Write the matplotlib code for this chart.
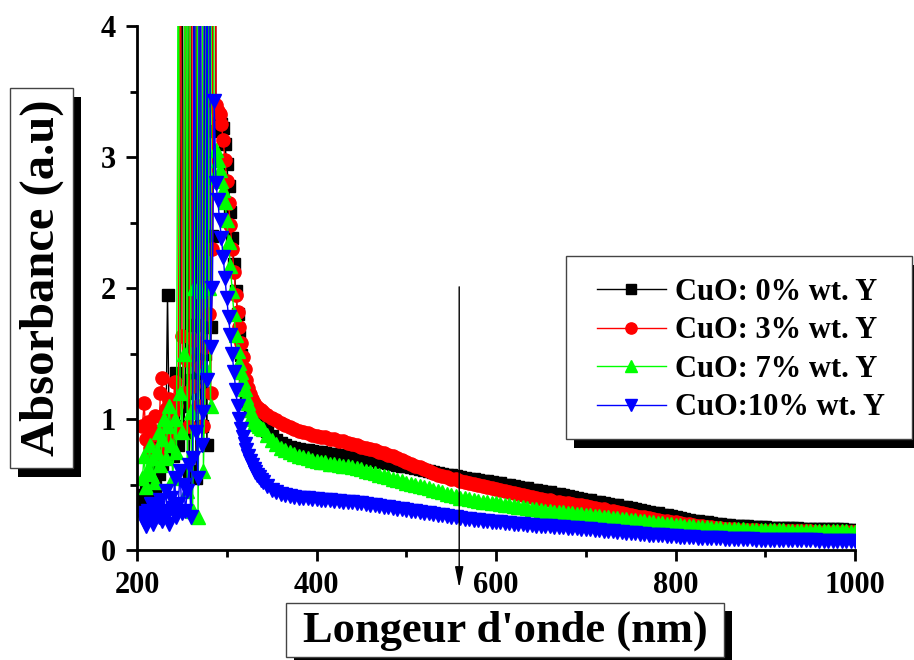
import numpy as np
import matplotlib
matplotlib.use("Agg")
import matplotlib.pyplot as plt
from matplotlib.patches import Rectangle
from matplotlib.lines import Line2D

plt.rcParams['font.family'] = ['Liberation Serif', 'DejaVu Serif']
plt.rcParams['font.weight'] = 'bold'

# wavelength grid (nm): noisy part, steep edge, smooth tail
wl_noise = np.arange(206, 289, 2)
wl_edge = np.arange(290, 341, 2)
wl_tail = np.arange(345, 1001, 5)
wavelength = np.concatenate([wl_noise, wl_edge, wl_tail])

labels = ['CuO: 0% wt. Y', 'CuO: 3% wt. Y', 'CuO: 7% wt. Y', 'CuO:10% wt. Y']
colors = ['#000000', '#ff0000', '#00ff00', '#0000ff']
markers = ['s', 'o', '^', 'v']
msizes = [8.5, 9.5, 10.5, 10.5]

# --- CuO 0 % ---
a0_noise = [0.42, 0.38, 0.45, 0.52, 0.40, 0.55, 0.62, 0.48, 0.70, 0.58,
            0.80, 0.66, 0.90, 0.75, 1.95, 0.85, 1.05, 0.72, 0.95, 1.35,
            0.80, 1.10, 6.0, 0.90, 1.20, 7.5, 0.60, 1.30, 8.0, 1.72,
            0.55, 9.0, 1.35, 0.95, 8.5, 1.50, 0.80, 9.5, 1.70, 2.40,
            9.0, 3.20]
a0_edge = [3.30, 3.28, 3.25, 3.22, 3.10, 2.95, 2.78, 2.58, 2.38, 2.18,
           1.98, 1.80, 1.63, 1.49, 1.37, 1.27, 1.19, 1.13, 1.09, 1.06,
           1.04, 1.02, 1.00, 0.99, 0.975, 0.96]
a0_tail = [0.91, 0.87, 0.84, 0.82, 0.805, 0.79, 0.78, 0.77, 0.765, 0.76,
           0.755, 0.75, 0.745, 0.74, 0.735, 0.73, 0.725, 0.72, 0.715, 0.71,
           0.705, 0.70, 0.695, 0.69, 0.685, 0.675, 0.67, 0.665, 0.66, 0.65,
           0.645, 0.64, 0.63, 0.625, 0.615, 0.61, 0.60, 0.595, 0.59, 0.58,
           0.575, 0.57, 0.565, 0.56, 0.55, 0.545, 0.54, 0.535, 0.53, 0.525,
           0.52, 0.515, 0.51, 0.50, 0.495, 0.49, 0.48, 0.475, 0.47, 0.46,
           0.455, 0.45, 0.445, 0.44, 0.43, 0.425, 0.42, 0.41, 0.405, 0.40,
           0.39, 0.385, 0.38, 0.37, 0.365, 0.36, 0.35, 0.345, 0.34, 0.33,
           0.325, 0.32, 0.31, 0.305, 0.30, 0.29, 0.285, 0.28, 0.27, 0.265,
           0.26, 0.25, 0.245, 0.24, 0.23, 0.225, 0.22, 0.215, 0.21, 0.205,
           0.20, 0.197, 0.193, 0.19, 0.187, 0.184, 0.182, 0.18, 0.178, 0.176,
           0.174, 0.172, 0.171, 0.17, 0.169, 0.168, 0.167, 0.166, 0.165, 0.164,
           0.163, 0.163, 0.162, 0.161, 0.16, 0.159, 0.158, 0.158, 0.157, 0.156,
           0.156, 0.155]

# --- CuO 3 % ---
a3_noise = [0.95, 1.12, 0.85, 0.98, 0.78, 0.92, 0.70, 1.02, 0.88, 0.75,
            1.20, 1.31, 0.95, 1.08, 0.82, 1.15, 0.90, 1.05, 1.28, 1.10,
            0.92, 5.5, 1.63, 1.20, 6.5, 1.45, 0.95, 8.0, 1.25, 1.60,
            7.0, 1.10, 1.40, 9.0, 0.95, 1.55, 8.5, 1.80, 1.20, 2.30,
            9.5, 3.40]
a3_edge = [3.35, 3.33, 3.25, 3.13, 2.98, 2.82, 2.65, 2.48, 2.30, 2.12,
           1.95, 1.82, 1.70, 1.58, 1.47, 1.38, 1.30, 1.24, 1.19, 1.15,
           1.12, 1.10, 1.09, 1.08, 1.07, 1.05]
a3_tail = [1.03, 1.01, 0.99, 0.97, 0.955, 0.94, 0.925, 0.91, 0.90, 0.89,
           0.88, 0.87, 0.865, 0.86, 0.85, 0.845, 0.835, 0.83, 0.82, 0.81,
           0.80, 0.79, 0.78, 0.77, 0.76, 0.75, 0.74, 0.725, 0.715, 0.70,
           0.69, 0.675, 0.66, 0.645, 0.63, 0.615, 0.60, 0.59, 0.575, 0.565,
           0.555, 0.545, 0.54, 0.53, 0.52, 0.51, 0.505, 0.495, 0.49, 0.48,
           0.475, 0.465, 0.46, 0.45, 0.445, 0.435, 0.43, 0.42, 0.415, 0.405,
           0.395, 0.39, 0.385, 0.38, 0.37, 0.365, 0.36, 0.355, 0.35, 0.345,
           0.34, 0.335, 0.33, 0.32, 0.315, 0.31, 0.30, 0.295, 0.29, 0.28,
           0.275, 0.27, 0.26, 0.255, 0.25, 0.245, 0.235, 0.23, 0.225, 0.22,
           0.215, 0.21, 0.205, 0.20, 0.195, 0.19, 0.186, 0.182, 0.178, 0.174,
           0.17, 0.166, 0.163, 0.16, 0.157, 0.155, 0.153, 0.151, 0.15, 0.149,
           0.148, 0.147, 0.146, 0.145, 0.145, 0.144, 0.144, 0.143, 0.143, 0.142,
           0.142, 0.142, 0.141, 0.141, 0.141, 0.14, 0.14, 0.14, 0.14, 0.14,
           0.14, 0.14]

# --- CuO 7 % ---
a7_noise = [0.55, 0.72, 0.48, 0.62, 0.80, 0.58, 0.70, 0.52, 0.75, 0.90,
            0.65, 0.85, 1.00, 0.70, 0.95, 1.10, 0.80, 0.55, 1.00, 0.75,
            5.0, 1.20, 0.90, 1.50, 7.0, 0.45, 8.0, 1.05, 0.30, 2.00,
            9.0, 0.25, 1.98, 8.5, 0.60, 1.40, 9.0, 2.00, 1.10, 9.5,
            2.85, 3.05]
a7_edge = [2.98, 2.90, 2.82, 2.75, 2.66, 2.52, 2.35, 2.17, 1.98, 1.80,
           1.64, 1.52, 1.43, 1.36, 1.29, 1.23, 1.17, 1.12, 1.07, 1.03,
           1.00, 0.98, 0.96, 0.945, 0.93, 0.92]
a7_tail = [0.88, 0.84, 0.81, 0.78, 0.76, 0.745, 0.73, 0.72, 0.71, 0.70,
           0.69, 0.68, 0.675, 0.67, 0.66, 0.655, 0.65, 0.645, 0.64, 0.635,
           0.625, 0.615, 0.605, 0.595, 0.585, 0.575, 0.565, 0.555, 0.545, 0.535,
           0.525, 0.515, 0.505, 0.495, 0.49, 0.48, 0.47, 0.46, 0.45, 0.44,
           0.43, 0.42, 0.41, 0.40, 0.395, 0.39, 0.38, 0.375, 0.37, 0.365,
           0.36, 0.355, 0.35, 0.345, 0.34, 0.335, 0.33, 0.325, 0.32, 0.315,
           0.31, 0.305, 0.30, 0.297, 0.293, 0.29, 0.287, 0.283, 0.28, 0.277,
           0.273, 0.27, 0.266, 0.262, 0.258, 0.254, 0.25, 0.246, 0.242, 0.238,
           0.235, 0.231, 0.227, 0.223, 0.219, 0.215, 0.211, 0.207, 0.203, 0.199,
           0.196, 0.193, 0.19, 0.187, 0.184, 0.181, 0.178, 0.175, 0.172, 0.17,
           0.168, 0.165, 0.163, 0.161, 0.159, 0.158, 0.157, 0.156, 0.155, 0.154,
           0.153, 0.152, 0.151, 0.15, 0.15, 0.149, 0.148, 0.148, 0.147, 0.147,
           0.146, 0.146, 0.145, 0.145, 0.144, 0.144, 0.143, 0.143, 0.142, 0.142,
           0.141, 0.14]

# --- CuO 10 % ---
a10_noise = [0.28, 0.22, 0.18, 0.30, 0.24, 0.35, 0.20, 0.28, 0.32, 0.25,
             0.38, 0.22, 0.30, 0.45, 0.28, 0.20, 0.40, 0.32, 0.55, 0.25,
             0.35, 0.60, 0.28, 0.50, 0.30, 0.45, 0.65, 0.25, 0.70, 5.0,
             0.90, 0.55, 7.0, 0.80, 1.05, 8.0, 1.30, 9.0, 1.55, 2.00,
             3.43, 2.80]
a10_edge = [2.67, 2.52, 2.38, 2.24, 2.08, 1.92, 1.78, 1.64, 1.50, 1.36,
            1.22, 1.10, 1.00, 0.92, 0.86, 0.81, 0.76, 0.72, 0.68, 0.65,
            0.62, 0.595, 0.575, 0.555, 0.535, 0.52]
a10_tail = [0.485, 0.46, 0.44, 0.43, 0.42, 0.412, 0.405, 0.40, 0.397, 0.394,
            0.391, 0.388, 0.385, 0.382, 0.379, 0.376, 0.373, 0.37, 0.367, 0.364,
            0.36, 0.355, 0.35, 0.345, 0.34, 0.335, 0.33, 0.325, 0.32, 0.315,
            0.31, 0.305, 0.30, 0.295, 0.29, 0.285, 0.28, 0.275, 0.27, 0.265,
            0.26, 0.255, 0.25, 0.245, 0.24, 0.236, 0.232, 0.228, 0.224, 0.22,
            0.217, 0.214, 0.211, 0.208, 0.205, 0.202, 0.199, 0.196, 0.193, 0.19,
            0.187, 0.185, 0.182, 0.18, 0.177, 0.175, 0.172, 0.17, 0.167, 0.165,
            0.162, 0.16, 0.157, 0.154, 0.151, 0.148, 0.145, 0.142, 0.139, 0.136,
            0.133, 0.13, 0.127, 0.124, 0.121, 0.118, 0.115, 0.113, 0.111, 0.109,
            0.107, 0.105, 0.103, 0.101, 0.099, 0.097, 0.095, 0.093, 0.092, 0.091,
            0.09, 0.088, 0.087, 0.086, 0.085, 0.084, 0.083, 0.082, 0.081, 0.08,
            0.079, 0.078, 0.078, 0.077, 0.077, 0.076, 0.076, 0.075, 0.075, 0.074,
            0.074, 0.073, 0.073, 0.072, 0.072, 0.072, 0.071, 0.071, 0.071, 0.07,
            0.07, 0.07]

series = [a0_noise + a0_edge + a0_tail,
          a3_noise + a3_edge + a3_tail,
          a7_noise + a7_edge + a7_tail,
          a10_noise + a10_edge + a10_tail]

W, H = 914, 660
fig = plt.figure(figsize=(W / 100, H / 100), dpi=100)
ax = fig.add_axes([137 / W, 1 - 550 / H, 718 / W, 524 / H])

for vals, c, m, ms, lab in zip(series, colors, markers, msizes, labels):
    ax.plot(wavelength, vals, color=c, lw=1, marker=m, ms=ms, mec=c, mfc=c, label=lab)

ax.set_xlim(200, 1000)
ax.set_ylim(0, 4)
ax.set_xticks([200, 400, 600, 800, 1000])
ax.set_xticks([300, 500, 700, 900], minor=True)
ax.set_yticks([0, 1, 2, 3, 4])
ax.set_yticks([0.5, 1.5, 2.5, 3.5], minor=True)
for s in ['top', 'right']:
    ax.spines[s].set_visible(False)
for s in ['left', 'bottom']:
    ax.spines[s].set_linewidth(2)
ax.tick_params(which='major', direction='out', length=8, width=2, labelsize=22, pad=7)
ax.tick_params(which='minor', direction='out', length=5, width=2)

# arrow marking a wavelength
ax.annotate('', xy=(559, -0.31), xytext=(559, 2.03), annotation_clip=False,
            arrowprops=dict(arrowstyle='-|>,head_width=0.18,head_length=0.9',
                            color='black', lw=1, mutation_scale=14))


def shadow_box(x0, y0, x1, y1, dx=8, dy=9):
    # pixel coords, origin top-left
    fig.add_artist(Rectangle(((x0 + dx) / W, 1 - (y1 + dy) / H), (x1 - x0) / W, (y1 - y0) / H,
                             transform=fig.transFigure, facecolor='black', edgecolor='none', zorder=4))
    fig.add_artist(Rectangle((x0 / W, 1 - y1 / H), (x1 - x0) / W, (y1 - y0) / H,
                             transform=fig.transFigure, facecolor='white', edgecolor='#444444',
                             lw=1, zorder=4.5))


shadow_box(10, 88, 73, 468)
fig.text(42 / W, 1 - 278 / H, 'Absorbance (a.u)', rotation=90, ha='center', va='center',
         fontsize=35, fontweight='bold', zorder=6)

shadow_box(286, 603, 724, 657, dx=8, dy=8)
fig.text(505 / W, 1 - 631 / H, "Longeur d'onde (nm)", ha='center', va='center',
         fontsize=32, fontweight='bold', zorder=6)

shadow_box(566, 256, 912, 439)
handles = [Line2D([], [], color=c, lw=1, marker=m, ms=ms * 0.85, mec=c, mfc=c)
           for c, m, ms in zip(colors, markers, msizes)]
leg = fig.legend(handles, labels, loc='upper left', bbox_to_anchor=(597 / W, 1 - 278 / H),
                 frameon=False, borderpad=0, borderaxespad=0, handlelength=2.25,
                 handletextpad=0.3, labelspacing=0.31, prop={'size': 22, 'weight': 'bold'})
leg.set_zorder(6)

fig.savefig('out.png', dpi=100)
